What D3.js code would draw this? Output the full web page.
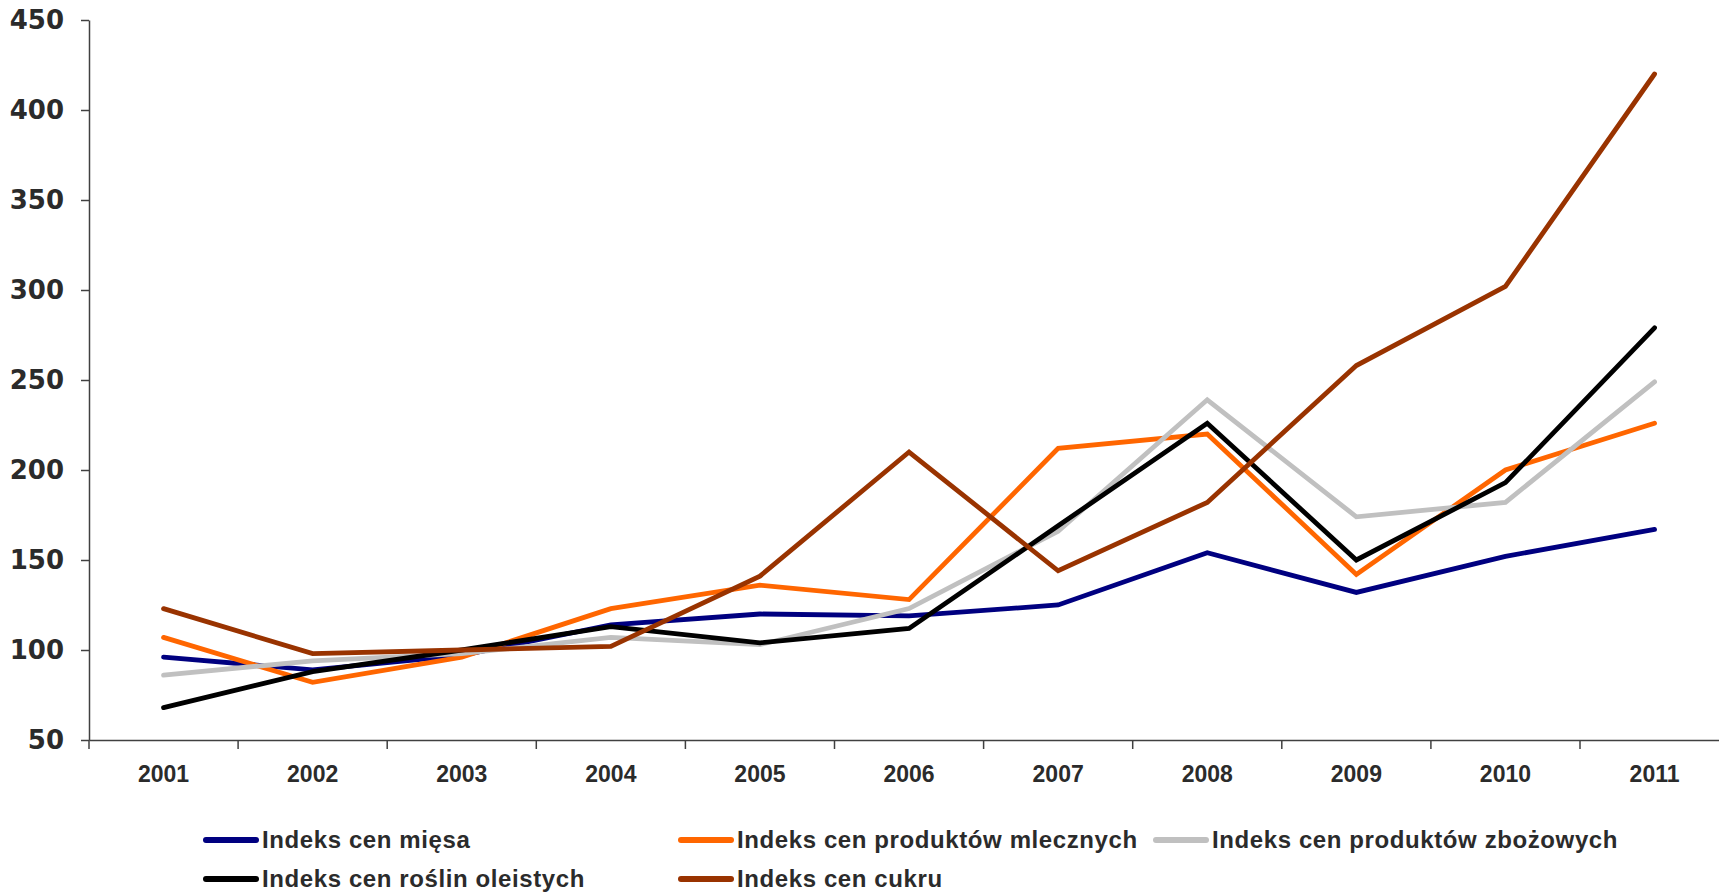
<!DOCTYPE html>
<html><head><meta charset="utf-8">
<script src="https://cdn.jsdelivr.net/npm/d3@7"></script>
<style>
html,body{margin:0;padding:0;background:#fff;overflow:hidden}
svg{display:block}
</style></head>
<body>
<svg id="chart" width="1719" height="895"></svg>
<script>
const years = ["2001","2002","2003","2004","2005","2006","2007","2008","2009","2010","2011"];
const yTicks = [50,100,150,200,250,300,350,400,450];
const seriesNames = ["Indeks cen mięsa","Indeks cen produktów mlecznych","Indeks cen produktów zbożowych","Indeks cen roślin oleistych","Indeks cen cukru"];
const seriesColors = ["#000080","#FF6600","#C0C0C0","#000000","#993300"];
const meat    = [96, 89, 97, 114, 120, 119, 125, 154, 132, 152, 167];
const dairy   = [107, 82, 96, 123, 136, 128, 212, 220, 142, 200, 226];
const cereals = [86, 94, 98, 107, 103, 123, 166, 239, 174, 182, 249];
const oils    = [68, 88, 100, 113, 104, 112, 169, 226, 150, 193, 279];
const sugar   = [123, 98, 100, 102, 141, 210, 144, 182, 258, 302, 420];
const seriesValues = [meat, dairy, cereals, oils, sugar];

(function(){
const svg = d3.select("#chart");
const left = 89, band = 149.1, topY = 20, bottomY = 740;
const x = d3.scaleBand().domain(years).range([left, left + band*years.length]);
const y = d3.scaleLinear().domain([50,450]).range([bottomY, topY]);
const axisColor = "#404040";

// Y axis
const yAxis = svg.append("g").attr("transform",`translate(${left},0)`)
  .call(d3.axisLeft(y).tickValues(yTicks).tickSize(8).tickPadding(17).tickSizeOuter(0));
yAxis.select(".domain").attr("stroke",axisColor).attr("stroke-width",1.5);
yAxis.selectAll(".tick line").attr("stroke",axisColor).attr("stroke-width",1.5);
yAxis.selectAll(".tick text").attr("font-family","'DejaVu Sans', sans-serif").attr("font-weight","bold")
  .attr("font-size",26).attr("fill","#2b2b2b");

// X axis with ticks at band boundaries
const xAxis = svg.append("g").attr("transform",`translate(0,${bottomY})`)
  .call(d3.axisBottom(x).tickSize(0).tickPadding(26).tickSizeOuter(0));
xAxis.select(".domain").attr("stroke",axisColor).attr("stroke-width",1.5);
xAxis.selectAll(".tick text").attr("font-family","'Liberation Sans Narrow','Liberation Sans',Arial,sans-serif")
  .attr("font-weight","bold").attr("font-size",23).attr("fill","#2b2b2b");
xAxis.selectAll(".bound").data(years).enter().append("line")
  .attr("x1",d=>x(d)).attr("x2",d=>x(d)).attr("y1",0).attr("y2",9)
  .attr("stroke",axisColor).attr("stroke-width",1.5);

// Lines
const line = d3.line().x((d,i)=>x(years[i]) + x.bandwidth()/2).y(d=>y(d));
svg.append("g").selectAll("path").data(seriesValues).enter().append("path")
  .attr("d",line).attr("fill","none")
  .attr("stroke",(d,i)=>seriesColors[i]).attr("stroke-width",4.8)
  .attr("stroke-linejoin","miter").attr("stroke-linecap","round");

// Legend
const legPos = [[206,840],[681,840],[1156,840],[206,879],[681,879]];
const leg = svg.append("g").selectAll("g").data(seriesNames).enter().append("g")
  .attr("transform",(d,i)=>`translate(${legPos[i][0]},${legPos[i][1]})`);
leg.append("line").attr("x1",0).attr("x2",50).attr("y1",0).attr("y2",0)
  .attr("stroke",(d,i)=>seriesColors[i]).attr("stroke-width",6).attr("stroke-linecap","round");
leg.append("text").attr("x",56).attr("y",8).text(d=>d)
  .attr("font-family","'Liberation Sans Narrow','Liberation Sans',Arial,sans-serif")
  .attr("font-weight","bold").attr("font-size",24).attr("letter-spacing",0.6).attr("fill","#2b2b2b");
})();
</script>
</body></html>
